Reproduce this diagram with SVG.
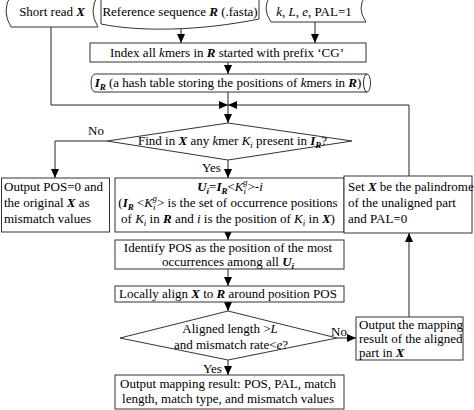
<svg xmlns="http://www.w3.org/2000/svg" width="474" height="410" viewBox="0 0 474 410">
<defs>
<marker id="ah" markerUnits="userSpaceOnUse" markerWidth="10" markerHeight="8" refX="9" refY="4" orient="auto">
<path d="M0,0 L9,4 L0,8 z" fill="#000"/>
</marker>
<style>
text{font-family:'Liberation Serif','DejaVu Serif',serif;font-size:13px;fill:#000}
.s{fill:#fff;stroke:#333;stroke-width:1}
.c{fill:none;stroke:#222;stroke-width:1}
.a{marker-end:url(#ah)}
.bi{font-weight:bold;font-style:italic}
.i{font-style:italic}
.sb{font-size:9px}
.m{text-anchor:middle}
</style>
</defs>
<rect width="474" height="410" fill="#fff"/>
<g font-family="Liberation Serif, DejaVu Serif, serif">
<g id="connectors">
<path class="c a" d="M181,29 V43"/>
<path class="c a" d="M315,22 V43"/>
<path class="c a" d="M228,62 V74"/>
<path class="c" d="M228,92 V105"/>
<path class="c a" d="M51,27 V105 H228"/>
<path class="c a" d="M409,176 V105 H228"/>
<path class="c a" d="M228,105 V123"/>
<path class="c a" d="M107,141 H55 V178"/>
<path class="c a" d="M228,160 V178"/>
<path class="c a" d="M228,232 V240"/>
<path class="c a" d="M228,269 V286"/>
<path class="c a" d="M228,302 V311"/>
<path class="c a" d="M337,338 H356"/>
<path class="c a" d="M409,317 V233"/>
<path class="c a" d="M228,360 V375"/>
<text x="88" y="135">No</text>
<text x="202" y="172">Yes</text>
<text x="331" y="336">No</text>
<text x="203" y="373">Yes</text>
</g>
<g id="short-read">
<path class="s" d="M11,-5 Q1,11 11,27 L98,27 Q88,11 98,-5 Z"/>
<text x="52" y="16" class="m">Short read <tspan class="bi">X</tspan></text>
</g>
<g id="reference">
<path class="s" d="M101,-5 V24 C140,32 200,31 259,19 V-5 Z"/>
<text x="180" y="16" class="m">Reference sequence <tspan class="bi">R</tspan> (.fasta)</text>
</g>
<g id="params">
<path class="s" d="M271,-5 Q261,8 271,22 L366,22 Q356,8 366,-5 Z"/>
<text x="314" y="16" class="m"><tspan class="i">k</tspan>, <tspan class="i">L</tspan>, <tspan class="i">e</tspan>, PAL=1</text>
</g>
<g id="index">
<rect class="s" x="90" y="43" width="276" height="19"/>
<text x="227" y="57" class="m">Index all <tspan class="i">k</tspan>mers in <tspan class="bi">R</tspan> started with prefix ‘CG’</text>
</g>
<g id="hash-table">
<path class="s" d="M95,74 L367,74 A3.5,9 0 0 1 367,92 L95,92 A4,9 0 0 1 95,74 Z"/>
<path class="c" d="M367,74 A3.5,9 0 0 0 367,92"/>
<text x="228" y="87" class="m"><tspan class="bi">I</tspan><tspan class="bi sb" dy="3">R</tspan><tspan dy="-3"> (a hash table storing the positions of </tspan><tspan class="i">k</tspan>mers in <tspan class="bi">R</tspan>)</text>
</g>
<g id="find-kmer">
<path class="s" d="M228,123 L352,141 L228,160 L107,141 Z"/>
<text x="138" y="145">Find in <tspan class="bi">X</tspan> any <tspan class="i">k</tspan>mer <tspan class="i">K</tspan><tspan class="i sb" dy="3">i</tspan><tspan dy="-3"> present in </tspan><tspan class="bi">I</tspan><tspan class="bi sb" dy="3">R</tspan><tspan dy="-3">?</tspan></text>
</g>
<g id="output-pos0">
<rect class="s" x="1.5" y="178" width="108" height="54"/>
<text x="4" y="191">Output POS=0 and</text>
<text x="4" y="207">the original <tspan class="bi">X</tspan> as</text>
<text x="4" y="223">mismatch values</text>
</g>
<g id="ui">
<rect class="s" x="115" y="178" width="229" height="54"/>
<text x="230" y="191" class="m"><tspan class="bi">U</tspan><tspan class="bi sb" dy="3">i</tspan><tspan dy="-3">=</tspan><tspan class="bi">I</tspan><tspan class="bi sb" dy="3">R</tspan><tspan dy="-3">&lt;</tspan><tspan class="i">K</tspan><tspan class="i sb" dy="3">i</tspan><tspan class="i sb" dx="-3" dy="-9">g</tspan><tspan dy="6">&gt;-</tspan><tspan class="i">i</tspan></text>
<text x="228" y="207" class="m">(<tspan class="bi">I</tspan><tspan class="bi sb" dy="3">R</tspan><tspan dy="-3"> &lt;</tspan><tspan class="i">K</tspan><tspan class="i sb" dy="3">i</tspan><tspan class="i sb" dx="-3" dy="-9">g</tspan><tspan dy="6">&gt; is the set of occurrence positions</tspan></text>
<text x="228" y="223" class="m">of <tspan class="i">K</tspan><tspan class="i sb" dy="3">i</tspan><tspan dy="-3"> in </tspan><tspan class="bi">R</tspan> and <tspan class="i">i</tspan> is the position of <tspan class="i">K</tspan><tspan class="i sb" dy="3">i</tspan><tspan dy="-3"> in </tspan><tspan class="bi">X</tspan>)</text>
</g>
<g id="set-palindrome">
<rect class="s" x="344" y="176" width="128" height="57"/>
<text x="348" y="191">Set <tspan class="bi">X</tspan> be the palindrome</text>
<text x="348" y="207">of the unaligned part</text>
<text x="348" y="223">and PAL=0</text>
</g>
<g id="identify">
<rect class="s" x="115" y="240" width="229" height="29"/>
<text x="228" y="252" class="m">Identify POS as the position of the most</text>
<text x="228" y="265.5" class="m">occurrences among all <tspan class="bi">U</tspan><tspan class="bi sb" dy="3">i</tspan></text>
</g>
<g id="align">
<rect class="s" x="115" y="286" width="229" height="16"/>
<text x="228" y="298" class="m">Locally align <tspan class="bi">X</tspan> to <tspan class="bi">R</tspan> around position POS</text>
</g>
<g id="check">
<path class="s" d="M228,311 L337,338 L228,360 L120,338 Z"/>
<text x="230" y="333" class="m">Aligned length &gt;<tspan class="i">L</tspan></text>
<text x="231" y="349" class="m">and mismatch rate&lt;<tspan class="i">e</tspan>?</text>
</g>
<g id="output-aligned">
<rect class="s" x="356" y="317" width="107" height="43"/>
<text x="359" y="329">Output the mapping</text>
<text x="359" y="343">result of the aligned</text>
<text x="359" y="357">part in <tspan class="bi">X</tspan></text>
</g>
<g id="output-result">
<rect class="s" x="115" y="375" width="229" height="34"/>
<text x="228" y="388" class="m">Output mapping result: POS, PAL, match</text>
<text x="228" y="403" class="m">length, match type, and mismatch values</text>
</g>
</g>
</svg>
